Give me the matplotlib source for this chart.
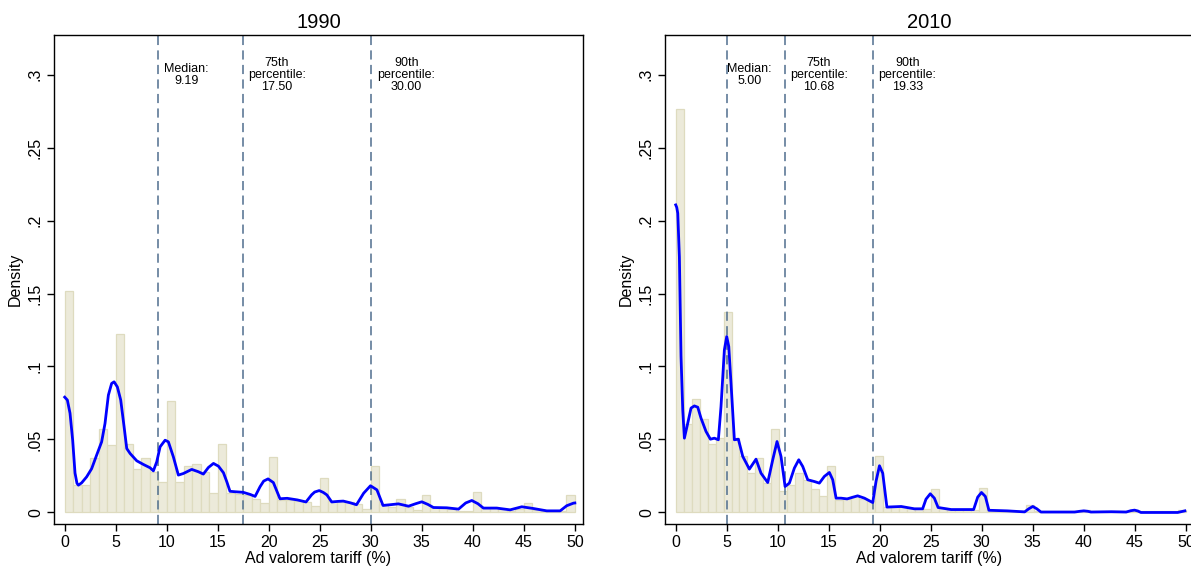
import numpy as np
import matplotlib
matplotlib.use("Agg")
import matplotlib.pyplot as plt

plt.rcParams['font.family'] = ['Liberation Sans', 'DejaVu Sans']

# ---------------- data ----------------
# 1990 histogram (60 bins from 0 to 50)
hist_1990 = [0.152, 0.019, 0.019, 0.037, 0.057, 0.046, 0.1225, 0.047, 0.0295, 0.037,
             0.028, 0.021, 0.0765, 0.021, 0.032, 0.033, 0.028, 0.013, 0.0466, 0.013,
             0.0125, 0.012, 0.009, 0.0065, 0.0377, 0.0087, 0.0082, 0.0077, 0.007, 0.0041,
             0.0235, 0.0077, 0.007, 0.007, 0.0059, 0.0025, 0.0318, 0.0055, 0.0035, 0.0094,
             0.004, 0.0018, 0.0119, 0.003, 0.003, 0.0023, 0.0011, 0.0011, 0.014, 0.0034,
             0.0036, 0.0023, 0.0011, 0.0023, 0.0064, 0.0018, 0.0011, 0.0011, 0.0007, 0.012]
# 2010 histogram (64 bins from 0 to 50)
hist_2010 = [0.2763, 0.0605, 0.0776, 0.0639, 0.047, 0.0507, 0.137, 0.051, 0.039, 0.027,
             0.037, 0.020, 0.0575, 0.015, 0.019, 0.027, 0.022, 0.016, 0.011, 0.0317,
             0.0084, 0.0095, 0.011, 0.0095, 0.008, 0.0388, 0.004, 0.004, 0.0035, 0.003,
             0.003, 0.0025, 0.016, 0.003, 0.002, 0.002, 0.002, 0.002, 0.0167, 0.002,
             0.0015, 0.001, 0.001, 0.001, 0.0053, 0.0008, 0.0008, 0.0008, 0.0008, 0.0008,
             0.0008, 0.002, 0.0008, 0.0008, 0.0008, 0.0008, 0.0008, 0.002, 0.0008, 0.0008,
             0.0008, 0.0008, 0.0008, 0.002]

# kernel density curves
kde_1990_x = [0.0, 0.26, 0.52, 0.78, 1.01, 1.2, 1.34, 1.66, 2.15, 2.64, 3.13, 3.62, 3.95,
              4.28, 4.6, 4.84, 5.16, 5.49, 5.82, 6.08, 6.41, 7.06, 7.71, 8.37, 8.69, 9.02,
              9.35, 9.84, 10.16, 10.65, 11.14, 11.63, 12.45, 13.1, 13.59, 14.08, 14.58,
              15.07, 15.56, 15.89, 16.2, 16.7, 17.5, 18.2, 18.66, 19.15, 19.5, 19.93,
              20.45, 21.1, 21.8, 22.8, 23.65, 24.2, 24.5, 24.95, 25.35, 25.7, 26.17, 26.8,
              27.3, 28.0, 28.6, 29.3, 29.97, 30.6, 31.2, 31.9, 32.7, 33.7, 34.4, 35.0,
              35.6, 36.14, 37.45, 38.6, 39.3, 39.9, 40.5, 41.04, 42.35, 43.66, 44.8,
              45.95, 47.25, 48.56, 49.2, 49.87, 50.0]
kde_1990_y = [0.079, 0.077, 0.068, 0.0495, 0.027, 0.020, 0.0187, 0.0203, 0.0244, 0.030,
              0.0393, 0.0484, 0.061, 0.0804, 0.0884, 0.0895, 0.086, 0.077, 0.0587, 0.0438,
              0.0404, 0.0354, 0.0329, 0.0306, 0.0285, 0.0347, 0.045, 0.0495, 0.0484,
              0.0381, 0.0256, 0.0267, 0.0295, 0.0279, 0.0263, 0.0308, 0.0336, 0.0317,
              0.0272, 0.021, 0.0145, 0.0142, 0.0138, 0.0123, 0.011, 0.0177, 0.0215,
              0.023, 0.0205, 0.0094, 0.0097, 0.0086, 0.0072, 0.0121, 0.0140, 0.015,
              0.0137, 0.012, 0.0072, 0.0076, 0.0078, 0.0066, 0.0053, 0.0132, 0.0183,
              0.0155, 0.0048, 0.0053, 0.0059, 0.0043, 0.006, 0.0073, 0.0055, 0.0034,
              0.0032, 0.0023, 0.0065, 0.0082, 0.006, 0.003, 0.003, 0.0018, 0.0039,
              0.0027, 0.0011, 0.0011, 0.0046, 0.0064, 0.0065]

kde_2010_x = [0.0, 0.1, 0.2, 0.36, 0.52, 0.69, 0.85, 1.18, 1.5, 1.83, 2.16, 2.48, 2.97,
              3.4, 3.79, 4.18, 4.44, 4.77, 5.0, 5.2, 5.42, 5.75, 6.14, 6.57, 7.22, 7.87,
              8.36, 9.02, 9.51, 9.93, 10.32, 10.72, 11.14, 11.63, 12.06, 12.45, 12.94,
              13.59, 14.08, 14.57, 15.06, 15.39, 15.72, 16.2, 16.8, 17.83, 18.5, 19.31,
              19.64, 19.97, 20.29, 20.7, 22.1, 23.4, 24.2, 24.53, 24.95, 25.35, 25.72,
              27.0, 29.2, 29.6, 29.97, 30.35, 30.7, 32.5, 34.2, 34.6, 35.0, 35.4, 35.8,
              39.1, 39.6, 40.0, 40.4, 40.7, 42.7, 44.15, 44.6, 44.97, 45.3, 45.6, 49.2,
              49.9]
kde_2010_y = [0.2107, 0.209, 0.205, 0.175, 0.107, 0.0703, 0.0509, 0.0612, 0.0715, 0.073,
              0.0721, 0.0646, 0.0555, 0.0502, 0.0509, 0.0498, 0.0726, 0.1114, 0.1205,
              0.1137, 0.0886, 0.0498, 0.0502, 0.0384, 0.0297, 0.0365, 0.0269, 0.0205,
              0.0361, 0.0486, 0.0384, 0.0178, 0.0201, 0.0304, 0.0361, 0.0315, 0.0224,
              0.0212, 0.0201, 0.0247, 0.0274, 0.0224, 0.0098, 0.0098, 0.0093, 0.0114,
              0.0098, 0.0068, 0.0215, 0.032, 0.0269, 0.0037, 0.0041, 0.0025, 0.0025,
              0.0091, 0.0128, 0.0098, 0.0034, 0.002, 0.002, 0.0105, 0.0137, 0.011,
              0.0015, 0.0011, 0.0004, 0.0025, 0.0041, 0.0025, 0.0003, 0.0003, 0.0008,
              0.0011, 0.0008, 0.0003, 0.0005, 0.0003, 0.0012, 0.0016, 0.001, 0.0, 0.0,
              0.0011]

pct_1990 = [9.19, 17.50, 30.00]
pct_2010 = [5.00, 10.68, 19.33]
labels_1990 = ["Median:\n9.19", "75th\npercentile:\n17.50", "90th\npercentile:\n30.00"]
labels_2010 = ["Median:\n5.00", "75th\npercentile:\n10.68", "90th\npercentile:\n19.33"]
label_x_1990 = [11.9, 20.8, 33.5]
label_x_2010 = [7.2, 14.05, 22.7]

xticks = [0, 5, 10, 15, 20, 25, 30, 35, 40, 45, 50]
yticks = [0, 0.05, 0.1, 0.15, 0.2, 0.25, 0.3]
ytick_labels = ["0", ".05", ".1", ".15", ".2", ".25", ".3"]

# ---------------- figure ----------------
fig = plt.figure(figsize=(11.91, 5.70), dpi=100)
W, H = 1191.0, 570.0
ax1 = fig.add_axes([54 / W, 46 / H, 529 / W, 489 / H])
ax2 = fig.add_axes([665 / W, 46 / H, 529 / W, 489 / H])


def draw(ax, title, hist, kx, ky, pcts, labels, lx):
    n = len(hist)
    edges = np.linspace(0, 50, n + 1)
    ax.bar(edges[:-1], hist, width=edges[1] - edges[0], align='edge',
           color='#eceada', edgecolor='#dedbbf', linewidth=0.9, zorder=1)
    ax.plot(kx, ky, color='#0000ff', lw=2.0, zorder=3)
    for p, lab, x in zip(pcts, labels, lx):
        ax.axvline(p, color='#4f6e8e', lw=1.1, dashes=(6, 3.5), zorder=2)
        ax.text(x, 0.2995, lab, ha='center', va='center', fontsize=9,
                linespacing=1.0, zorder=4)
    ax.set_xlim(-1.05, 50.8)
    ax.set_ylim(-0.0079, 0.3271)
    ax.set_xticks(xticks)
    ax.set_xticklabels([str(t) for t in xticks], fontsize=11.5)
    ax.set_yticks(yticks)
    ax.set_yticklabels(ytick_labels, fontsize=11.5, rotation=90, va='center')
    ax.tick_params(direction='out', length=5, width=1, pad=3)
    for s in ax.spines.values():
        s.set_linewidth(1.0)
    ax.set_title(title, fontsize=14.5, pad=5)
    ax.set_xlabel("Ad valorem tariff (%)", fontsize=11.5, labelpad=1)
    ax.set_ylabel("Density", fontsize=11.5, labelpad=4)


draw(ax1, "1990", hist_1990, kde_1990_x, kde_1990_y, pct_1990, labels_1990, label_x_1990)
draw(ax2, "2010", hist_2010, kde_2010_x, kde_2010_y, pct_2010, labels_2010, label_x_2010)

fig.savefig("out.png", dpi=100)
